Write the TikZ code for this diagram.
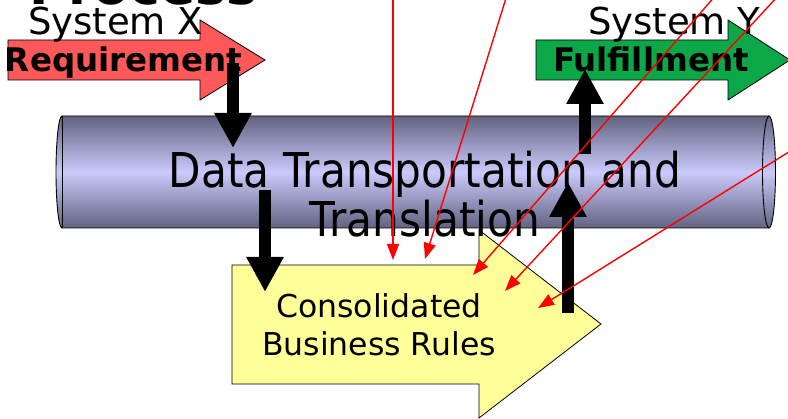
\documentclass[tikz,border=0pt]{standalone}
\usepackage{fontspec}
\setmainfont{DejaVu Sans}
\newfontfamily\narrowfont{DejaVu Sans}[FakeStretch=0.88]
\usetikzlibrary{arrows.meta}

\definecolor{reqred}{RGB}{255,88,88}
\definecolor{fulgreen}{RGB}{12,168,72}
\definecolor{ruleyellow}{RGB}{255,255,153}
\definecolor{cyldark}{RGB}{98,98,128}
\definecolor{cyllight}{RGB}{202,202,252}

\begin{document}
\begin{tikzpicture}[x=1pt, y=-1pt,
  every node/.style={inner sep=0pt, outer sep=0pt},
  blockarrow/.style={draw=black, line width=0.8pt, line join=miter},
  bigarrow/.style={line width=12pt, -{Triangle[width=35pt,length=35pt]}},
  redline/.style={red, line width=1.4pt, -{Triangle[width=12pt,length=16pt]}}]
  \useasboundingbox (0,0) rectangle (788,419);

  %----- 標題(上方被裁掉) -----
  \node[anchor=base west, font=\bfseries\fontsize{52}{56}\selectfont] (title) at (30,5) {Process};

  %----- 圓柱:資料傳輸 -----
  \shadedraw[top color=cyldark, bottom color=cyldark, middle color=cyllight, line width=0.9pt]
    (62,116) -- (769,116) -- (769,228) -- (62,228)
    arc[start angle=90, end angle=270, x radius=6, y radius=56] -- cycle;
  \draw[line width=0.9pt] (62,116) -- (62,228);
  \shadedraw[top color=cyldark, bottom color=cyldark, middle color=cyllight, line width=0.9pt]
    (769,172) ellipse[x radius=6.5, y radius=56];

  %----- 三個箭頭形狀 -----
  \fill[reqred, blockarrow] (8,40) -- (200,40) -- (200,20) -- (265,60) -- (200,100) -- (200,80) -- (8,80) -- cycle;
  \fill[fulgreen, blockarrow] (536,40) -- (728,40) -- (728,20) -- (790,60) -- (728,100) -- (728,80) -- (536,80) -- cycle;
  \fill[ruleyellow, blockarrow] (232,265) -- (479,265) -- (479,230) -- (601,324) -- (479,418) -- (479,384) -- (232,384) -- cycle;

  %----- 文字 -----
  \node[anchor=base west, font=\fontsize{37}{42}\selectfont] (sysx) at (28,35) {System X};
  \node[anchor=base west, font=\bfseries\fontsize{32.5}{36}\selectfont] (req) at (5,72) {Requirement};
  \node[anchor=base west, font=\fontsize{37}{42}\selectfont] (sysy) at (588,35) {System Y};
  \node[anchor=base west, font=\bfseries\fontsize{32.5}{36}\selectfont] (ful) at (553,72) {Fulfillment};
  % 多行節點的 base 在最後一行
  \node[anchor=base, align=center, font=\narrowfont\fontsize{48}{49}\selectfont] (dtt) at (425,237) {Data Transportation and\\Translation};
  \node[anchor=base, align=center, font=\fontsize{31.5}{38}\selectfont] (cbr) at (379,356) {Consolidated\\Business Rules};

  %----- 粗黑箭頭 -----
  \coordinate (reqA) at (233,63);   \coordinate (cylA) at (233,148);
  \coordinate (cylB) at (265,190);  \coordinate (cbrB) at (265,292);
  \coordinate (cbrC) at (568,313);  \coordinate (cylC) at (568,182);
  \coordinate (cylD) at (585,154);  \coordinate (fulD) at (585,69);
  \draw[bigarrow] (reqA) -- (cylA);
  \draw[bigarrow] (cylB) -- (cbrB);
  \draw[bigarrow] (cbrC) -- (cylC);
  \draw[bigarrow] (cylD) -- (fulD);

  %----- 紅色細箭頭(起點在圖外) -----
  \coordinate (srcA) at (393,-5);  \coordinate (tipA) at (393,260);
  \coordinate (srcB) at (507,-5);  \coordinate (tipB) at (425,259);
  \coordinate (srcC) at (716,-5);  \coordinate (tipC) at (473,275);
  \coordinate (srcD) at (779,-5);  \coordinate (tipD) at (505,291);
  \coordinate (srcE) at (800,145); \coordinate (tipE) at (538,308);
  \foreach \s/\t in {srcA/tipA, srcB/tipB, srcC/tipC, srcD/tipD, srcE/tipE}
    \draw[redline] (\s) -- (\t);
\end{tikzpicture}
\end{document}
